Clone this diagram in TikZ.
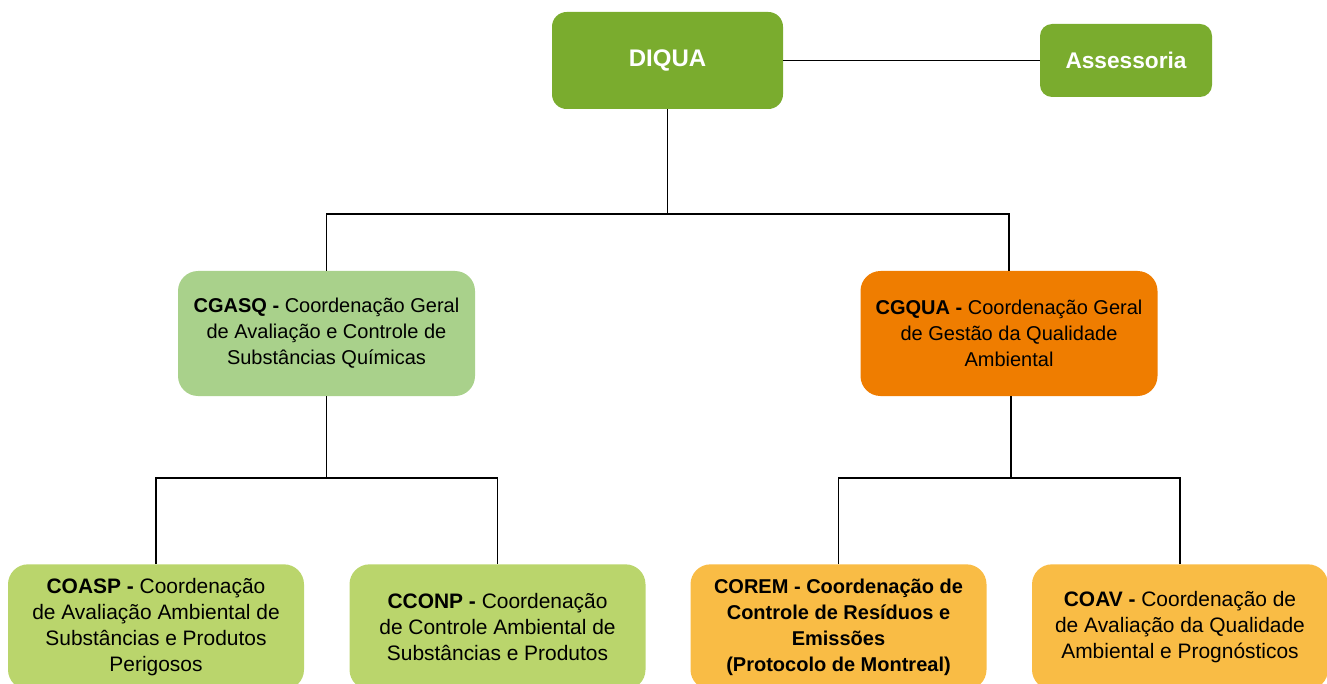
\documentclass[tikz,border=0pt]{standalone}
\usepackage{fontspec}
\setmainfont{Liberation Sans}
\usetikzlibrary{positioning}
\definecolor{cdark}{HTML}{7AAC2E}
\definecolor{clight}{HTML}{A9D18B}
\definecolor{corange}{HTML}{EF7D00}
\definecolor{cyg}{HTML}{BAD56C}
\definecolor{cyel}{HTML}{F9BC45}
\tikzset{
  top/.style={fill=cdark, rounded corners=11pt, text=white, font=\bfseries},
  mid/.style={rounded corners=15pt, minimum width=222.75pt, minimum height=93.75pt, align=center, font=\fontsize{15}{19.5}\selectfont, inner sep=0pt},
  bot/.style={rounded corners=15pt, minimum width=222pt, minimum height=94pt, align=center, font=\fontsize{15.7}{19.5}\selectfont, inner sep=0pt},
  conn/.style={draw=black, line width=0.9pt},
}
\begin{document}
\begin{tikzpicture}[x=0.75pt, y=-0.75pt]
\useasboundingbox (0,0) rectangle (1327,684);
\clip (0,0) rectangle (1327,684);
\node[top, minimum width=173.25pt, minimum height=72.75pt, font=\fontsize{18}{22}\selectfont\bfseries] (diqua) at (667.5,60.5) {DIQUA};
\node[top, minimum width=129pt, minimum height=54.75pt, rounded corners=9pt, font=\fontsize{17}{20}\selectfont\bfseries] (asse) at (1126,60.5) {Assessoria};
\node[mid, fill=clight] (cgasq) at (326.5,333.5) {\textbf{CGASQ -} Coordenação Geral\\de Avaliação e Controle de\\Substâncias Químicas};
\node[mid, fill=corange] (cgqua) at (1009,333.5) {\textbf{CGQUA -} Coordenação Geral\\de Gestão da Qualidade\\Ambiental};
\node[bot, fill=cyg] (coasp) at (156,627) {\textbf{COASP -} Coordenação\\de Avaliação Ambiental de\\Substâncias e Produtos\\Perigosos};
\node[bot, fill=cyg] (cconp) at (497.5,627) {\textbf{CCONP -} Coordenação\\de Controle Ambiental de\\Substâncias e Produtos};
\node[bot, fill=cyel, font=\fontsize{15}{19.5}\selectfont\bfseries] (corem) at (838.5,627) {COREM - Coordenação de\\Controle de Resíduos e\\Emissões\\(Protocolo de Montreal)};
\node[bot, fill=cyel] (coav) at (1180,627) {\textbf{COAV -} Coordenação de\\de Avaliação da Qualidade\\Ambiental e Prognósticos};
\coordinate (b1) at (667.5,214);
\coordinate (b2) at (326.5,478);
\coordinate (b3) at (1011,478);
\draw[conn] (diqua.east) -- (asse.west);
\draw[conn] (diqua.south) -- (b1);
\draw[conn] (cgasq.north) |- (b1) -| (cgqua.north);
\draw[conn] (cgasq.south) -- (b2);
\draw[conn] (coasp.north) |- (b2) -| (cconp.north);
\draw[conn] (cgqua.south -| b3) -- (b3);
\draw[conn] (corem.north) |- (b3) -| (coav.north);
\end{tikzpicture}
\end{document}
